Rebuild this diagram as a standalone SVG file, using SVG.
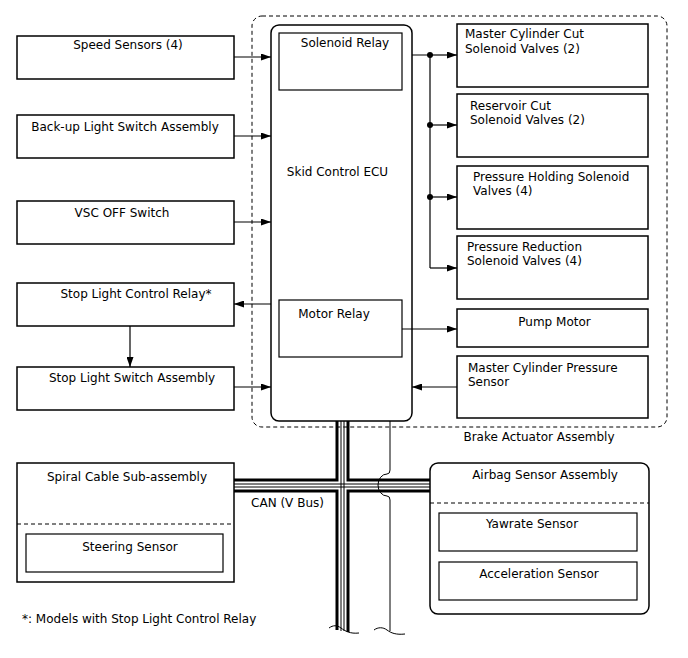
<svg xmlns="http://www.w3.org/2000/svg" width="688" height="658" viewBox="0 0 688 658">
<defs>
<marker id="ah" viewBox="0 0 10 7" refX="10" refY="3.5" markerWidth="11" markerHeight="7" orient="auto" markerUnits="userSpaceOnUse"><path d="M0,0 L10,3.5 L0,7 z" fill="#000"/></marker>
<style>
text{font-family:"DejaVu Sans","Liberation Sans",sans-serif;font-size:12px;fill:#000}
.c{text-anchor:middle}
.box{fill:#fff;stroke:#000;stroke-width:1.5}
.ib{fill:none;stroke:#000;stroke-width:1.2}
.dash{fill:none;stroke:#000;stroke-width:1;stroke-dasharray:4,3}
.ln{fill:none;stroke:#000;stroke-width:1.2}
.arr{fill:none;stroke:#000;stroke-width:1.2;marker-end:url(#ah)}
.thick{fill:none;stroke:#000;stroke-width:3}
.thin{fill:none;stroke:#000;stroke-width:1}
</style>
</defs>
<rect width="688" height="658" fill="#fff"/>

<g id="brake-actuator">
<rect x="252" y="16" width="415" height="411" rx="10" class="dash"/>
<text x="539" y="441" class="c">Brake Actuator Assembly</text>
</g>

<g id="speed-sensors"><rect x="17" y="36" width="217" height="43" class="box"/><text x="128" y="49" class="c">Speed Sensors (4)</text></g>
<g id="backup-light"><rect x="17" y="115" width="217" height="43" class="box"/><text x="125" y="131" class="c">Back-up Light Switch Assembly</text></g>
<g id="vsc-off"><rect x="17" y="201" width="217" height="43" class="box"/><text x="122" y="217" class="c">VSC OFF Switch</text></g>
<g id="stop-light-relay"><rect x="17" y="283" width="217" height="43" class="box"/><text x="136" y="298" class="c">Stop Light Control Relay*</text></g>
<g id="stop-light-switch"><rect x="17" y="367" width="217" height="43" class="box"/><text x="132" y="382" class="c">Stop Light Switch Assembly</text></g>

<g id="ecu">
<rect x="271" y="25" width="141" height="396" rx="8" class="box"/>
<text x="337.5" y="176" class="c">Skid Control ECU</text>
</g>
<g id="solenoid-relay"><rect x="279" y="33" width="123" height="57" class="ib"/><text x="345" y="47" class="c">Solenoid Relay</text></g>
<g id="motor-relay"><rect x="279" y="300" width="123" height="57" class="ib"/><text x="334" y="318" class="c">Motor Relay</text></g>

<g id="mc-cut"><rect x="457" y="24" width="191" height="63" class="box"/><text x="465" y="38">Master Cylinder Cut</text><text x="465" y="53">Solenoid Valves (2)</text></g>
<g id="reservoir-cut"><rect x="457" y="94" width="191" height="63" class="box"/><text x="470" y="110">Reservoir Cut</text><text x="470" y="124">Solenoid Valves (2)</text></g>
<g id="pressure-holding"><rect x="457" y="166" width="191" height="63" class="box"/><text x="473" y="181">Pressure Holding Solenoid</text><text x="473" y="195">Valves (4)</text></g>
<g id="pressure-reduction"><rect x="457" y="236" width="191" height="63" class="box"/><text x="467" y="251">Pressure Reduction</text><text x="467" y="265">Solenoid Valves (4)</text></g>
<g id="pump-motor"><rect x="457" y="309" width="191" height="38" class="box"/><text x="554.5" y="326" class="c">Pump Motor</text></g>
<g id="mc-pressure"><rect x="457" y="356" width="191" height="62" class="box"/><text x="468" y="372">Master Cylinder Pressure</text><text x="468" y="386">Sensor</text></g>

<g id="spiral-cable">
<rect x="17" y="463" width="217" height="119" class="box"/>
<line x1="17" y1="524" x2="234" y2="524" class="dash"/>
<text x="127" y="481" class="c">Spiral Cable Sub-assembly</text>
</g>
<g id="steering-sensor"><rect x="26" y="534" width="197" height="38" class="ib"/><text x="130" y="551" class="c">Steering Sensor</text></g>

<g id="airbag">
<rect x="430" y="463" width="219" height="151" rx="8" class="box"/>
<line x1="430" y1="503" x2="649" y2="503" class="dash"/>
<text x="545" y="479" class="c">Airbag Sensor Assembly</text>
</g>
<g id="yawrate"><rect x="439" y="513" width="198" height="38" class="ib"/><text x="532" y="528" class="c">Yawrate Sensor</text></g>
<g id="accel"><rect x="439" y="562" width="198" height="38" class="ib"/><text x="539" y="578" class="c">Acceleration Sensor</text></g>

<g id="connectors">
<line x1="234" y1="57" x2="271" y2="57" class="arr"/>
<line x1="234" y1="136" x2="271" y2="136" class="arr"/>
<line x1="234" y1="222" x2="271" y2="222" class="arr"/>
<line x1="271" y1="304" x2="234" y2="304" class="arr"/>
<line x1="234" y1="387" x2="271" y2="387" class="arr"/>
<line x1="130" y1="326" x2="130" y2="367" class="arr"/>
<polyline points="412,55 430,55 430,268" class="ln"/>
<line x1="430" y1="55" x2="457" y2="55" class="arr"/>
<line x1="430" y1="125" x2="457" y2="125" class="arr"/>
<line x1="430" y1="197" x2="457" y2="197" class="arr"/>
<line x1="430" y1="268" x2="457" y2="268" class="arr"/>
<circle cx="430" cy="55" r="3"/>
<circle cx="430" cy="125" r="3"/>
<circle cx="430" cy="197" r="3"/>
<line x1="402" y1="329" x2="457" y2="329" class="arr"/>
<line x1="457" y1="387" x2="412" y2="387" class="arr"/>

<!-- CAN bus -->
<path d="M337,421 V480 H234 M348,421 V480 H430 M337,630 V491 H234 M348,632 V491 H430" class="thick"/>
<path d="M341,421 V631 M344,421 V631 M234,484 H430 M234,487 H430" class="thin"/>
<path d="M329,628 C333,625 337,625 341,628 C345,631 350,634 359,633" class="thin"/>
<path d="M390,421 V470 Q390,474 387,474 A9,11 0 0 0 387,496 Q390,496 390,500 V631" class="thin" fill="none"/>
<path d="M374,630 C378,627 383,627 387,630 C391,633 396,635 405,634" class="thin"/>
<text x="287.5" y="507" class="c">CAN (V Bus)</text>
</g>

<text x="22" y="623">*: Models with Stop Light Control Relay</text>
</svg>
